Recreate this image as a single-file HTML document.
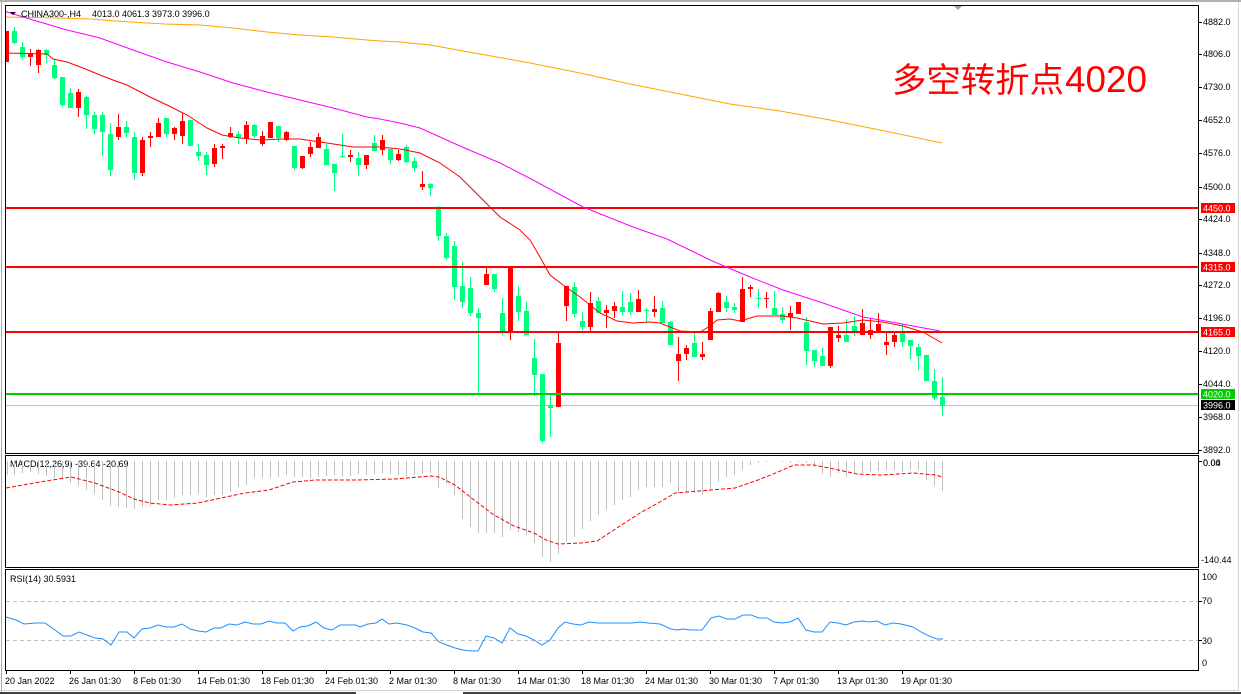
<!DOCTYPE html>
<html><head><meta charset="utf-8"><style>
html,body{margin:0;padding:0;background:#fff;}
svg{display:block;}
text{font-family:"Liberation Sans",sans-serif;font-size:9px;fill:#000;}
</style></head><body>
<svg width="1241" height="694" viewBox="0 0 1241 694" xmlns="http://www.w3.org/2000/svg">
<rect x="0" y="0" width="1241" height="694" fill="#fff"/>
<!-- window frame -->
<rect x="0" y="0" width="1241" height="2" fill="#b0b0b0"/>
<rect x="1" y="0" width="1" height="692" fill="#a8a8a8"/>
<rect x="0" y="690" width="1238" height="1" fill="#d4d4d4"/>
<rect x="0" y="692" width="356" height="2" fill="#404040"/>
<rect x="463" y="692" width="778" height="2" fill="#404040"/>
<rect x="1238" y="2" width="1" height="689" fill="#d4d4d4"/>
<polygon points="954,6 962,6 958,10" fill="#a0a0a0"/>

<!-- bid line (background) -->
<rect x="5" y="405" width="1193" height="1" fill="#c0c0c0"/>

<!-- red candles -->
<g fill="#ff0000" shape-rendering="crispEdges">
<rect x="5" y="31" width="4" height="31"/>
<rect x="30" y="49" width="1" height="17"/><rect x="28" y="53" width="5" height="4"/>
<rect x="38" y="49" width="1" height="24"/><rect x="36" y="50" width="5" height="15"/>
<rect x="78" y="89" width="1" height="28"/><rect x="76" y="92" width="5" height="16"/>
<rect x="118" y="114" width="1" height="26"/><rect x="116" y="127" width="5" height="10"/>
<rect x="142" y="137" width="1" height="39"/><rect x="140" y="140" width="5" height="33"/>
<rect x="150" y="132" width="1" height="15"/><rect x="148" y="136" width="5" height="2"/>
<rect x="158" y="118" width="1" height="19"/><rect x="156" y="123" width="5" height="14"/>
<rect x="174" y="127" width="1" height="13"/><rect x="172" y="128" width="5" height="6"/>
<rect x="182" y="113" width="1" height="31"/><rect x="180" y="121" width="5" height="15"/>
<rect x="214" y="144" width="1" height="23"/><rect x="212" y="148" width="5" height="16"/>
<rect x="222" y="144" width="1" height="15"/><rect x="220" y="146" width="5" height="2"/>
<rect x="230" y="127" width="1" height="11"/><rect x="228" y="133" width="5" height="4"/>
<rect x="246" y="121" width="1" height="23"/><rect x="244" y="125" width="5" height="14"/>
<rect x="262" y="131" width="1" height="15"/><rect x="260" y="136" width="5" height="8"/>
<rect x="268" y="122" width="5" height="16"/>
<rect x="286" y="131" width="1" height="10"/><rect x="284" y="132" width="5" height="8"/>
<rect x="302" y="156" width="1" height="13"/><rect x="300" y="156" width="5" height="12"/>
<rect x="310" y="142" width="1" height="15"/><rect x="308" y="147" width="5" height="7"/>
<rect x="318" y="133" width="1" height="15"/><rect x="316" y="137" width="5" height="11"/>
<rect x="350" y="150" width="1" height="12"/><rect x="348" y="155" width="5" height="2"/>
<rect x="366" y="155" width="1" height="14"/><rect x="364" y="155" width="5" height="10"/>
<rect x="382" y="135" width="1" height="20"/><rect x="380" y="140" width="5" height="10"/>
<rect x="398" y="150" width="1" height="11"/><rect x="396" y="154" width="5" height="6"/>
<rect x="422" y="171" width="1" height="19"/><rect x="420" y="184" width="5" height="3"/>
<rect x="486" y="267" width="1" height="18"/><rect x="484" y="274" width="5" height="11"/>
<rect x="510" y="267" width="1" height="73"/><rect x="508" y="267" width="5" height="65"/>
<rect x="558" y="332" width="1" height="75"/><rect x="556" y="343" width="5" height="64"/>
<rect x="566" y="286" width="1" height="35"/><rect x="564" y="286" width="5" height="20"/>
<rect x="590" y="292" width="1" height="40"/><rect x="588" y="303" width="5" height="24"/>
<rect x="606" y="305" width="1" height="23"/><rect x="604" y="310" width="5" height="3"/>
<rect x="614" y="302" width="1" height="16"/><rect x="612" y="306" width="5" height="5"/>
<rect x="638" y="290" width="1" height="22"/><rect x="636" y="299" width="5" height="13"/>
<rect x="654" y="296" width="1" height="21"/><rect x="652" y="309" width="5" height="3"/>
<rect x="678" y="337" width="1" height="44"/><rect x="676" y="354" width="5" height="7"/>
<rect x="686" y="345" width="1" height="15"/><rect x="684" y="348" width="5" height="6"/>
<rect x="702" y="342" width="1" height="18"/><rect x="700" y="354" width="5" height="3"/>
<rect x="710" y="308" width="1" height="32"/><rect x="708" y="311" width="5" height="29"/>
<rect x="718" y="292" width="1" height="20"/><rect x="716" y="293" width="5" height="19"/>
<rect x="742" y="277" width="1" height="45"/><rect x="740" y="289" width="5" height="33"/>
<rect x="750" y="285" width="1" height="12"/><rect x="748" y="287" width="5" height="2"/>
<rect x="766" y="292" width="1" height="16"/><rect x="764" y="298" width="5" height="1"/>
<rect x="790" y="306" width="1" height="24"/><rect x="788" y="313" width="5" height="4"/>
<rect x="796" y="302" width="5" height="12"/>
<rect x="830" y="327" width="1" height="41"/><rect x="828" y="327" width="5" height="39"/>
<rect x="838" y="326" width="1" height="16"/><rect x="836" y="335" width="5" height="3"/>
<rect x="862" y="309" width="1" height="26"/><rect x="860" y="323" width="5" height="12"/>
<rect x="870" y="319" width="1" height="20"/><rect x="868" y="330" width="5" height="5"/>
<rect x="878" y="313" width="1" height="19"/><rect x="876" y="324" width="5" height="8"/>
<rect x="886" y="333" width="1" height="22"/><rect x="884" y="342" width="5" height="3"/>
<rect x="894" y="333" width="1" height="14"/><rect x="892" y="335" width="5" height="7"/>
</g>

<!-- green candles -->
<g fill="#00ff7f" shape-rendering="crispEdges">
<rect x="14" y="27" width="1" height="17"/><rect x="12" y="31" width="5" height="12"/>
<rect x="22" y="42" width="1" height="17"/><rect x="20" y="47" width="5" height="10"/>
<rect x="46" y="49" width="1" height="14"/><rect x="44" y="50" width="5" height="5"/>
<rect x="54" y="60" width="1" height="19"/><rect x="52" y="65" width="5" height="13"/>
<rect x="62" y="77" width="1" height="30"/><rect x="60" y="77" width="5" height="28"/>
<rect x="70" y="88" width="1" height="20"/><rect x="68" y="93" width="5" height="15"/>
<rect x="86" y="96" width="1" height="33"/><rect x="84" y="97" width="5" height="18"/>
<rect x="94" y="112" width="1" height="22"/><rect x="92" y="115" width="5" height="14"/>
<rect x="102" y="112" width="1" height="44"/><rect x="100" y="115" width="5" height="17"/>
<rect x="110" y="123" width="1" height="53"/><rect x="108" y="134" width="5" height="36"/>
<rect x="126" y="121" width="1" height="16"/><rect x="124" y="127" width="5" height="6"/>
<rect x="134" y="132" width="1" height="48"/><rect x="132" y="137" width="5" height="36"/>
<rect x="166" y="118" width="1" height="19"/><rect x="164" y="118" width="5" height="16"/>
<rect x="188" y="120" width="5" height="26"/>
<rect x="198" y="144" width="1" height="17"/><rect x="196" y="152" width="5" height="4"/>
<rect x="206" y="152" width="1" height="23"/><rect x="204" y="155" width="5" height="10"/>
<rect x="238" y="131" width="1" height="13"/><rect x="236" y="134" width="5" height="4"/>
<rect x="254" y="124" width="1" height="14"/><rect x="252" y="125" width="5" height="11"/>
<rect x="278" y="126" width="1" height="16"/><rect x="276" y="126" width="5" height="12"/>
<rect x="294" y="146" width="1" height="24"/><rect x="292" y="146" width="5" height="22"/>
<rect x="326" y="144" width="1" height="21"/><rect x="324" y="149" width="5" height="16"/>
<rect x="334" y="164" width="1" height="27"/><rect x="332" y="164" width="5" height="9"/>
<rect x="342" y="134" width="1" height="24"/><rect x="340" y="156" width="5" height="1"/>
<rect x="358" y="152" width="1" height="24"/><rect x="356" y="158" width="5" height="7"/>
<rect x="374" y="135" width="1" height="16"/><rect x="372" y="143" width="5" height="8"/>
<rect x="390" y="149" width="1" height="15"/><rect x="388" y="149" width="5" height="11"/>
<rect x="406" y="145" width="1" height="18"/><rect x="404" y="147" width="5" height="15"/>
<rect x="414" y="158" width="1" height="14"/><rect x="412" y="161" width="5" height="7"/>
<rect x="430" y="183" width="1" height="13"/><rect x="428" y="184" width="5" height="4"/>
<rect x="438" y="206" width="1" height="35"/><rect x="436" y="209" width="5" height="27"/>
<rect x="446" y="233" width="1" height="27"/><rect x="444" y="236" width="5" height="22"/>
<rect x="454" y="241" width="1" height="59"/><rect x="452" y="246" width="5" height="41"/>
<rect x="462" y="262" width="1" height="46"/><rect x="460" y="286" width="5" height="16"/>
<rect x="470" y="277" width="1" height="39"/><rect x="468" y="288" width="5" height="25"/>
<rect x="478" y="308" width="1" height="85"/><rect x="476" y="313" width="5" height="5"/>
<rect x="494" y="274" width="1" height="18"/><rect x="492" y="274" width="5" height="15"/>
<rect x="502" y="298" width="1" height="37"/><rect x="500" y="313" width="5" height="19"/>
<rect x="518" y="286" width="1" height="35"/><rect x="516" y="296" width="5" height="16"/>
<rect x="526" y="302" width="1" height="33"/><rect x="524" y="311" width="5" height="24"/>
<rect x="534" y="339" width="1" height="57"/><rect x="532" y="358" width="5" height="17"/>
<rect x="542" y="374" width="1" height="69"/><rect x="540" y="374" width="5" height="67"/>
<rect x="550" y="395" width="1" height="42"/><rect x="548" y="405" width="5" height="3"/>
<rect x="574" y="282" width="1" height="35"/><rect x="572" y="287" width="5" height="27"/>
<rect x="582" y="312" width="1" height="18"/><rect x="580" y="321" width="5" height="6"/>
<rect x="598" y="297" width="1" height="16"/><rect x="596" y="301" width="5" height="12"/>
<rect x="622" y="291" width="1" height="24"/><rect x="620" y="307" width="5" height="5"/>
<rect x="630" y="293" width="1" height="22"/><rect x="628" y="302" width="5" height="10"/>
<rect x="646" y="308" width="1" height="15"/><rect x="644" y="310" width="5" height="1"/>
<rect x="662" y="301" width="1" height="22"/><rect x="660" y="308" width="5" height="15"/>
<rect x="670" y="321" width="1" height="24"/><rect x="668" y="322" width="5" height="23"/>
<rect x="694" y="332" width="1" height="25"/><rect x="692" y="343" width="5" height="14"/>
<rect x="726" y="296" width="1" height="16"/><rect x="724" y="302" width="5" height="6"/>
<rect x="734" y="303" width="1" height="10"/><rect x="732" y="307" width="5" height="3"/>
<rect x="758" y="289" width="1" height="19"/><rect x="756" y="298" width="5" height="1"/>
<rect x="774" y="291" width="1" height="24"/><rect x="772" y="308" width="5" height="7"/>
<rect x="782" y="307" width="1" height="16"/><rect x="780" y="314" width="5" height="6"/>
<rect x="806" y="317" width="1" height="48"/><rect x="804" y="322" width="5" height="29"/>
<rect x="814" y="350" width="1" height="17"/><rect x="812" y="350" width="5" height="11"/>
<rect x="822" y="348" width="1" height="18"/><rect x="820" y="356" width="5" height="10"/>
<rect x="846" y="319" width="1" height="23"/><rect x="844" y="335" width="5" height="7"/>
<rect x="854" y="316" width="1" height="20"/><rect x="852" y="326" width="5" height="6"/>
<rect x="902" y="324" width="1" height="23"/><rect x="900" y="333" width="5" height="9"/>
<rect x="910" y="340" width="1" height="19"/><rect x="908" y="340" width="5" height="6"/>
<rect x="918" y="344" width="1" height="26"/><rect x="916" y="347" width="5" height="9"/>
<rect x="924" y="355" width="5" height="26"/>
<rect x="934" y="369" width="1" height="31"/><rect x="932" y="381" width="5" height="17"/>
<rect x="942" y="377" width="1" height="39"/><rect x="940" y="397" width="5" height="9"/>
</g>

<!-- horizontal levels (on top of candles) -->
<rect x="5" y="207" width="1193" height="2" fill="#ff0000"/>
<rect x="5" y="266" width="1193" height="2" fill="#ff0000"/>
<rect x="5" y="331" width="1193" height="2" fill="#ff0000"/>
<rect x="5" y="393" width="1193" height="2" fill="#00cc00"/>

<!-- moving averages -->
<polyline fill="none" stroke="#ffa500" stroke-width="1" points="5,17 60,18 90,19 130,22 165,24 200,25 233,28 267,32 300,35 333,37 367,40 380,41 400,42 430,45 480,54 530,63 580,73 630,84 680,94 730,104 780,111 830,120 860,126 880,130 942,143"/>
<polyline fill="none" stroke="#ff00ff" stroke-width="1" points="5,11 7,12 33,20 67,30 100,38 133,50 167,62 200,72 233,83 267,92 300,100 333,108 367,117 380,119 400,123 420,128 440,137 460,146 467,149 500,163 533,180 583,207 633,227 667,239 700,255 710,260 750,277 783,290 823,303 863,317 897,323 940,331"/>
<polyline fill="none" stroke="#ff0000" stroke-width="1" points="5,53 47,54 53,59 67,62 83,68 100,75 113,80 127,85 150,97 167,105 187,115 207,128 222,135 240,138 260,140 283,139 300,139 327,143 353,147 380,147 400,149 420,153 440,163 460,177 480,197 500,217 520,230 530,240 540,257 550,275 563,285 580,297 600,313 617,321 633,323 650,322 660,323 680,331 700,332 710,326 717,320 730,319 740,321 757,316 783,316 797,318 810,321 823,324 843,323 863,320 883,322 903,326 923,332 942,343"/>

<!-- Chinese annotation -->
<text x="892" y="92" style="font-family:'Liberation Sans','Noto Sans CJK SC',sans-serif;font-size:34px;fill:#ff0000" textLength="172" lengthAdjust="spacingAndGlyphs">多空转折点</text>
<text x="1065" y="92" style="font-family:'Liberation Sans',sans-serif;font-size:37px;fill:#ff0000" textLength="82" lengthAdjust="spacingAndGlyphs">4020</text>

<!-- title -->
<polygon points="10,12 16,12 13,15" fill="#000"/>
<text x="21" y="17">CHINA300-,H4</text>
<text x="92" y="17">4013.0 4061.3 3973.0 3996.0</text>

<!-- panel borders -->
<g fill="none" stroke="#000" stroke-width="1" shape-rendering="crispEdges">
<rect x="5.5" y="5.5" width="1193" height="448"/>
<rect x="5.5" y="455.5" width="1193" height="112"/>
<rect x="5.5" y="569.5" width="1193" height="101"/>
</g>

<!-- right axis main -->
<g fill="#000" shape-rendering="crispEdges">
<rect x="1199" y="22" width="3" height="1"/><rect x="1199" y="54" width="3" height="1"/>
<rect x="1199" y="87" width="3" height="1"/><rect x="1199" y="120" width="3" height="1"/>
<rect x="1199" y="153" width="3" height="1"/><rect x="1199" y="187" width="3" height="1"/>
<rect x="1199" y="219" width="3" height="1"/><rect x="1199" y="253" width="3" height="1"/>
<rect x="1199" y="285" width="3" height="1"/><rect x="1199" y="318" width="3" height="1"/>
<rect x="1199" y="351" width="3" height="1"/><rect x="1199" y="384" width="3" height="1"/>
<rect x="1199" y="417" width="3" height="1"/><rect x="1199" y="450" width="3" height="1"/>
<rect x="1199" y="461" width="3" height="1"/>
<rect x="1199" y="601" width="3" height="1"/><rect x="1199" y="640" width="3" height="1"/>
</g>
<text x="1203" y="25">4882.0</text>
<text x="1203" y="57">4806.0</text>
<text x="1203" y="90">4730.0</text>
<text x="1203" y="123">4652.0</text>
<text x="1203" y="156">4576.0</text>
<text x="1203" y="190">4500.0</text>
<text x="1203" y="222">4424.0</text>
<text x="1203" y="256">4348.0</text>
<text x="1203" y="288">4272.0</text>
<text x="1203" y="321">4196.0</text>
<text x="1203" y="354">4120.0</text>
<text x="1203" y="387">4044.0</text>
<text x="1203" y="420">3968.0</text>
<text x="1203" y="453">3892.0</text>

<rect x="1201" y="203" width="34" height="10" fill="#ff0000"/>
<text x="1203" y="211.5" style="fill:#fff">4450.0</text>
<rect x="1201" y="262" width="34" height="10" fill="#ff0000"/>
<text x="1203" y="270.5" style="fill:#fff">4315.0</text>
<rect x="1201" y="327" width="34" height="10" fill="#ff0000"/>
<text x="1203" y="335.5" style="fill:#fff">4165.0</text>
<rect x="1201" y="389" width="34" height="10" fill="#00cc00"/>
<text x="1203" y="397.5" style="fill:#fff">4020.0</text>
<rect x="1201" y="400" width="34" height="10" fill="#000"/>
<text x="1203" y="408.5" style="fill:#fff">3996.0</text>

<!-- MACD -->
<text x="10" y="467">MACD(12,26,9) -39.64 -20.69</text>
<path fill="none" stroke="#c0c0c0" stroke-width="1" shape-rendering="crispEdges" d="M7.5 461V475M14.5 461V475M22.5 461V473M30.5 461V472M38.5 461V474M46.5 461V476M54.5 461V478M62.5 461V480M70.5 461V483M78.5 461V486M86.5 461V490M94.5 461V494M102.5 461V500M110.5 461V506M118.5 461V507M126.5 461V508M134.5 461V509M142.5 461V507M150.5 461V506M158.5 461V500M166.5 461V500M174.5 461V498M182.5 461V495M190.5 461V495M198.5 461V494M206.5 461V497M214.5 461V495M222.5 461V495M230.5 461V492M238.5 461V487M246.5 461V485M254.5 461V478M262.5 461V478M270.5 461V478M278.5 461V477M286.5 461V475M294.5 461V477M302.5 461V477M310.5 461V478M318.5 461V477M326.5 461V476M334.5 461V475M342.5 461V477M350.5 461V476M358.5 461V474M366.5 461V475M374.5 461V474M382.5 461V473M390.5 461V474M398.5 461V475M406.5 461V476M414.5 461V475M422.5 461V474M430.5 461V473M438.5 461V488M446.5 461V484M454.5 461V495M462.5 461V519M470.5 461V527M478.5 461V533M486.5 461V533M494.5 461V533M502.5 461V537M510.5 461V530M518.5 461V532M526.5 461V535M534.5 461V543M542.5 461V557M550.5 461V562M558.5 461V554M566.5 461V542M574.5 461V537M582.5 461V529M590.5 461V521M598.5 461V515M606.5 461V510M614.5 461V505M622.5 461V500M630.5 461V497M638.5 461V490M646.5 461V487M654.5 461V487M662.5 461V487M670.5 461V483M678.5 461V493M686.5 461V493M694.5 461V493M702.5 461V495M710.5 461V490M718.5 461V482M726.5 461V477M734.5 461V475M742.5 461V470M750.5 461V465M758.5 461V463M766.5 461V462M782.5 461V462M790.5 461V463M798.5 461V462M806.5 461V463M814.5 461V467M822.5 461V474M830.5 461V477M838.5 461V473M846.5 461V477M854.5 461V473M862.5 461V473M870.5 461V472M878.5 461V471M886.5 461V470M894.5 461V470M902.5 461V472M910.5 461V470M918.5 461V470M926.5 461V480M934.5 461V486M942.5 461V491"/>
<polyline fill="none" stroke="#ff0000" stroke-width="1" stroke-dasharray="4 2" points="6,488 40,482 71,477 95,483 119,492 134,499 150,503 170,505 198,503 221,498 245,493 269,490 293,482 316,480 356,480 395,479 431,476 439,477 455,485 474,500 494,515 514,526 534,533 546,540 558,544 581,543 597,541 617,528 640,513 660,502 675,493 699,491 735,488 758,480 778,472 794,465 814,465 834,469 857,474 881,475 913,473 936,475 942,477"/>
<text x="1203" y="466">0.00</text>
<text x="1203" y="466">0.04</text>
<text x="1201" y="563">-140.44</text>

<!-- RSI -->
<text x="10" y="582">RSI(14) 30.5931</text>
<line x1="6" y1="601.5" x2="1198" y2="601.5" stroke="#c0c0c0" stroke-width="1" stroke-dasharray="4 3"/>
<line x1="6" y1="640.5" x2="1198" y2="640.5" stroke="#c0c0c0" stroke-width="1" stroke-dasharray="4 3"/>
<polyline fill="none" stroke="#1e90ff" stroke-width="1" points="6,617 16,620 24,624 36,623 45,623 55,630 63,636 71,636 79,632 87,635 95,638 103,639 111,645 119,632 127,632 134,638 142,629 150,628 158,625 166,627 174,627 182,624 190,629 198,631 206,632 214,628 221,628 229,624 237,625 245,622 253,624 261,624 269,621 277,623 285,623 293,631 300,627 308,626 316,622 324,628 332,630 340,625 356,625 360,627 368,624 376,623 382,619 389,624 397,623 407,625 415,628 423,632 431,633 439,642 447,645 455,648 463,650 471,651 478,651 486,636 494,638 502,643 510,628 518,634 526,636 534,640 542,645 550,640 558,628 565,622 573,624 581,625 589,622 597,623 620,623 632,623 640,622 648,623 660,624 671,629 677,630 683,629 691,630 702,630 711,618 719,616 727,619 735,619 743,615 751,615 759,618 767,618 774,622 782,623 790,622 798,618 806,630 814,632 822,632 830,622 838,623 846,625 854,622 862,621 869,622 877,621 885,625 893,623 901,624 913,627 921,632 929,636 937,639 943,639"/>
<text x="1202" y="580">100</text>
<text x="1202" y="604">70</text>
<text x="1202" y="644">30</text>
<text x="1202" y="666">0</text>

<!-- x axis -->
<g fill="#000" shape-rendering="crispEdges">
<rect x="6" y="670" width="1" height="4"/><rect x="70" y="670" width="1" height="4"/>
<rect x="134" y="670" width="1" height="4"/><rect x="198" y="670" width="1" height="4"/>
<rect x="262" y="670" width="1" height="4"/><rect x="326" y="670" width="1" height="4"/>
<rect x="390" y="670" width="1" height="4"/><rect x="454" y="670" width="1" height="4"/>
<rect x="518" y="670" width="1" height="4"/><rect x="582" y="670" width="1" height="4"/>
<rect x="646" y="670" width="1" height="4"/><rect x="710" y="670" width="1" height="4"/>
<rect x="774" y="670" width="1" height="4"/><rect x="838" y="670" width="1" height="4"/>
<rect x="902" y="670" width="1" height="4"/>
</g>
<text x="5" y="684">20 Jan 2022</text>
<text x="69" y="684">26 Jan 01:30</text>
<text x="133" y="684">8 Feb 01:30</text>
<text x="197" y="684">14 Feb 01:30</text>
<text x="261" y="684">18 Feb 01:30</text>
<text x="325" y="684">24 Feb 01:30</text>
<text x="389" y="684">2 Mar 01:30</text>
<text x="453" y="684">8 Mar 01:30</text>
<text x="517" y="684">14 Mar 01:30</text>
<text x="581" y="684">18 Mar 01:30</text>
<text x="645" y="684">24 Mar 01:30</text>
<text x="709" y="684">30 Mar 01:30</text>
<text x="773" y="684">7 Apr 01:30</text>
<text x="837" y="684">13 Apr 01:30</text>
<text x="901" y="684">19 Apr 01:30</text>
</svg>
</body></html>
